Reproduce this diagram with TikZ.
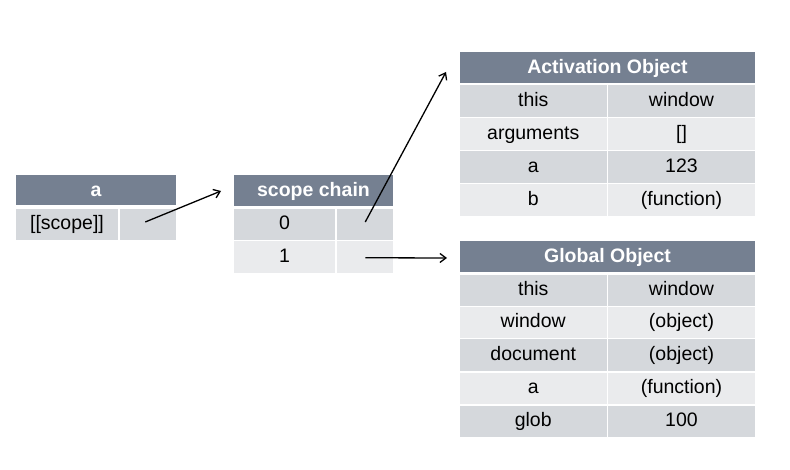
\documentclass[tikz,border=0pt]{standalone}
\usepackage{fontspec}
\setmainfont{Liberation Sans}
\usetikzlibrary{arrows.meta}
\definecolor{hdrcol}{RGB}{117,128,145}
\definecolor{darkcell}{RGB}{213,216,220}
\definecolor{lightcell}{RGB}{234,235,237}
\begin{document}
\begin{tikzpicture}[x=1pt,y=-1pt,
  cellbase/.style={rectangle,inner sep=0pt,anchor=center,text height=14pt,text depth=4pt,
    font=\fontsize{19.5}{22}\selectfont},
  hdr/.style={cellbase,fill=hdrcol,text=white,text height=15.5pt,text depth=2.5pt,
    font=\fontsize{19.5}{22}\selectfont\bfseries},
  cdark/.style={cellbase,fill=darkcell,text=black},
  clight/.style={cellbase,fill=lightcell,text=black},
  ptr/.style={line width=1.3pt,-{Straight Barb[length=6pt,width=9pt,line width=1.3pt]}}]
\useasboundingbox (0,0) rectangle (790,470);
\def\cell#1#2#3#4#5#6#7{% style,name,x1,y1,x2,y2,text
  \node[#1,minimum width={#5-#3},minimum height={#6-#4}] (#2) at ({(#3+#5)/2},{(#4+#6)/2}) {#7};}
% table a
\cell{hdr}{aH}{16}{175}{176}{205}{a}
\cell{cdark}{aL}{16}{209}{118}{240}{[[scope]]}
\cell{cdark}{aR}{119.5}{209}{176}{240}{}
% scope chain
\cell{hdr}{sH}{234}{175}{393}{206}{scope chain}
\cell{cdark}{s0L}{234}{209}{335}{240}{0}
\cell{cdark}{s0R}{336.5}{209}{393}{240}{}
\cell{clight}{s1L}{234}{241.5}{335}{273}{1}
\cell{clight}{s1R}{336.5}{241.5}{393}{273}{}
% activation object
\cell{hdr}{oH}{460}{52}{755}{83}{Activation Object}
\cell{cdark}{o1L}{460}{85.5}{606.5}{117}{this}
\cell{cdark}{o1R}{608}{85.5}{755}{117}{window}
\cell{clight}{o2L}{460}{118.5}{606.5}{150}{arguments}
\cell{clight}{o2R}{608}{118.5}{755}{150}{[]}
\cell{cdark}{o3L}{460}{151.5}{606.5}{183}{a}
\cell{cdark}{o3R}{608}{151.5}{755}{183}{123}
\cell{clight}{o4L}{460}{184.5}{606.5}{216}{b}
\cell{clight}{o4R}{608}{184.5}{755}{216}{(function)}
% global object
\cell{hdr}{gH}{460}{241}{755}{272}{Global Object}
\cell{cdark}{g1L}{460}{275}{606.5}{306}{this}
\cell{cdark}{g1R}{608}{275}{755}{306}{window}
\cell{clight}{g2L}{460}{307.5}{606.5}{338}{window}
\cell{clight}{g2R}{608}{307.5}{755}{338}{(object)}
\cell{cdark}{g3L}{460}{339.5}{606.5}{371}{document}
\cell{cdark}{g3R}{608}{339.5}{755}{371}{(object)}
\cell{clight}{g4L}{460}{372.5}{606.5}{404}{a}
\cell{clight}{g4R}{608}{372.5}{755}{404}{(function)}
\cell{cdark}{g5L}{460}{405.5}{606.5}{437}{glob}
\cell{cdark}{g5R}{608}{405.5}{755}{437}{100}
% arrow ends
\coordinate (e1) at (221,191);
\coordinate (e2) at (446,72);
\coordinate (e3) at (447,258);
\draw[ptr] ([shift={(-2.5,-2.5)}]aR.center) -- (e1);
\draw[ptr] ([shift={(0.5,-2.5)}]s0R.center) -- (e2);
\draw[ptr] ([shift={(0.5,0.5)}]s1R.center) -- (e3);
\end{tikzpicture}
\end{document}
